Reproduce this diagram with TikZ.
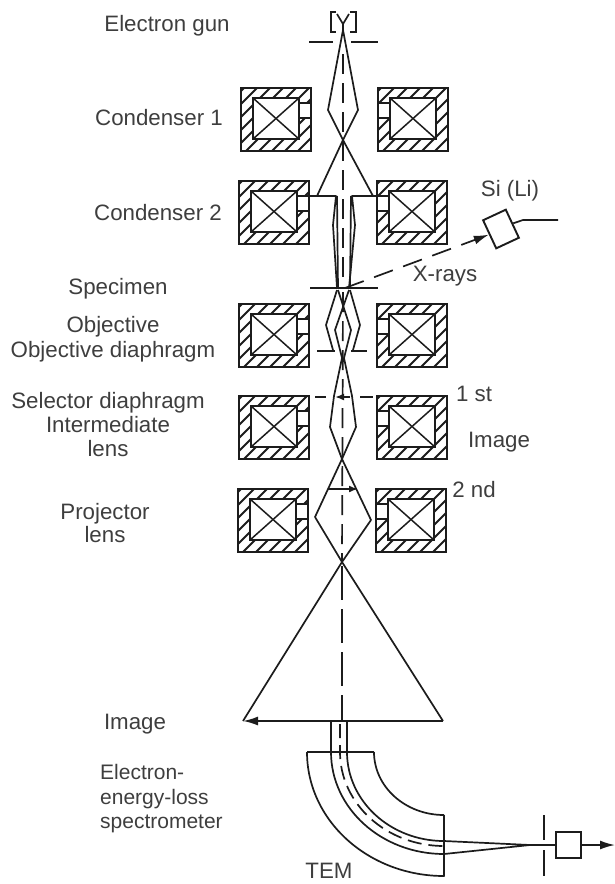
\documentclass[tikz,border=0pt]{standalone}
\usepackage{fontspec}
\setmainfont{Liberation Sans}
\usepackage{tikz}
\usetikzlibrary{arrows.meta,positioning,calc}
\definecolor{Ink}{HTML}{1C1C1C}
\tikzset{
  label/.style={font=\fontsize{22.3}{26}\selectfont,text=Ink!85,inner sep=0pt,align=center},
  ray/.style={draw=Ink,line width=1.7pt,line join=round},
  axis/.style={draw=Ink,line width=1.7pt,dash pattern=on 20pt off 9pt},
  plate/.style={draw=Ink,line width=2pt},
  arrow/.style={-{Latex[length=15pt,width=9pt]},draw=Ink,line width=1.7pt},
  smallarrow/.style={-{Latex[length=9pt,width=7pt]},draw=Ink,line width=1.7pt},
  boxed/.style={draw=Ink,line width=1.9pt,fill=white,inner sep=0pt},
  pics/coil/.style={code={
    \begin{scope}[even odd rule]
      \clip (0,0) rectangle (70,63) (12,10) rectangle (58,51) (#1,15) rectangle ++(12,15);
      \foreach \k in {-60,-47,...,70} \draw[Ink,line width=1.8pt] (\k,63) -- ++(63,-63);
    \end{scope}
    \draw[Ink,line width=2.5pt] (0,0) rectangle (70,63);
    \draw[Ink,line width=2.2pt] (12,10) rectangle (58,51);
    \draw[Ink,line width=1.5pt] (12,10) -- (58,51) (12,51) -- (58,10);
    \draw[Ink,line width=1.6pt] (#1,15) rectangle ++(12,15);
  }}
}
\begin{document}
\begin{tikzpicture}[x=1pt,y=-1pt]
  \useasboundingbox (0,0) rectangle (615,884);
  % lens coils
  \foreach \xa/\xb/\y in {241/378/88,239/377/181,239/377/304,239/377/396,238/376/489} {
    \pic at (\xa,\y) {coil=58};
    \pic at (\xb,\y) {coil=0};
  }
  % gun
  \draw[plate] (336,12) -- (331,12) -- (331,32) -- (336,32);
  \draw[plate] (350,12) -- (356,12) -- (356,32) -- (350,32);
  \draw[ray] (337,14) -- (343,24) -- (349,14) (343,24) -- (343,32);
  \draw[plate] (309,42) -- (333,42) (351,42) -- (378,42);
  % column axis
  \draw[axis] (343,54) -- (343,286);
  \draw[axis] (343,292) -- (342,562);
  \draw[axis,dash pattern=on 34pt off 9pt] (342,566) -- (342,720);
  % condenser rays
  \draw[ray] (343,30) -- (328,110) -- (343,140) -- (317,196);
  \draw[ray] (343,30) -- (358,110) -- (343,140) -- (373,196);
  \draw[ray] (300,196) -- (336,196) -- (333,225) -- (337,288);
  \draw[ray] (389,196) -- (352,196) -- (355,225) -- (349,288);
  \draw[ray] (337,196) -- (338,288) (351,196) -- (350,288);
  \draw[plate] (310,288) -- (378,288);
  % objective rays
  \draw[ray] (337,290) -- (326,325) -- (333,350);
  \draw[ray] (350,290) -- (360,325) -- (353,350);
  \draw[ray] (349,290) -- (335,330) -- (343,362);
  \draw[ray] (338,290) -- (351,330) -- (343,362);
  \draw[plate] (317,351) -- (335,351) (351,351) -- (367,351);
  % intermediate rays
  \draw[ray] (342,358) -- (334,396) -- (330,427) -- (342,459) -- (315,517) -- (342,562);
  \draw[ray] (344,358) -- (352,396) -- (356,427) -- (342,459) -- (371,520) -- (342,562);
  \draw[plate] (315,397) -- (326,397) (360,397) -- (373,397);
  \draw[smallarrow] (350,397) -- (335,397);
  \draw[smallarrow] (328,489) -- (358,489);
  % final image
  \draw[ray] (342,562) -- (243,721) (342,562) -- (443,721);
  \draw[ray] (443,721) -- (260,721);
  \draw[arrow] (262,721) -- (243,721);
  % spectrometer
  \draw[ray] (331,721) -- (331,752) (347,721) -- (347,752);
  \draw[axis,dash pattern=on 14pt off 7pt] (340,724) -- (340,752) arc[start angle=180,end angle=90,x radius=104,y radius=94];
  \draw[ray] (307,752) -- (374,752);
  \draw[ray] (307,752) arc[start angle=180,end angle=90,x radius=137,y radius=124] -- (444,815);
  \draw[ray] (374,752) arc[start angle=180,end angle=90,x radius=70,y radius=63];
  \draw[ray] (331,752) arc[start angle=180,end angle=90,x radius=113,y radius=102];
  \draw[ray] (347,752) arc[start angle=180,end angle=90,x radius=97,y radius=89];
  % energy slit and detector
  \node[boxed,minimum width=25pt,minimum height=26pt] (eels) at (568.5,845) {};
  \coordinate (focus) at (530,845);
  \coordinate (outlet) at (615,845);
  \draw[ray] (444,841) -- (focus) (444,854) -- (focus) (focus) -- (eels.west);
  \draw[plate] (544,815) -- (544,840) (544,850) -- (544,876);
  \draw[arrow] (eels.east) -- (outlet);
  % x-ray detector
  \node[boxed,rotate=25,minimum width=25pt,minimum height=31pt] (sili) at (501,229) {};
  \coordinate (spec) at (345,288);
  \coordinate (wire) at (558,220);
  \draw[arrow,dash pattern=on 20pt off 11pt] (spec) -- (sili.west);
  \draw[ray] (sili.east) -- (523,220) -- (wire);
  % labels
  \node[label] (gun) at (167,26) {Electron gun};
  \node[label] (cond1) at (159,118) {Condenser 1};
  \node[label] (cond2) at (158,213) {Condenser 2};
  \node[label] (specimen) at (118,289) {Specimen};
  \node[label] (objective) at (113,327) {Objective};
  \node[label] (objdia) at (113,352) {Objective diaphragm};
  \node[label] (seldia) at (108,403) {Selector diaphragm};
  \node[label] (interm) at (108,425) {Intermediate};
  \node[label] (intermlens) at (108,449) {lens};
  \node[label] (proj) at (105,514) {Projector};
  \node[label] (projlens) at (105,535) {lens};
  \node[label] (image) at (135,724) {Image};
  \node[label,anchor=west,font=\fontsize{21}{24}\selectfont] (eel1) at (100,772) {Electron-};
  \node[label,anchor=west,font=\fontsize{21}{24}\selectfont] (eel2) at (100,799) {energy-loss};
  \node[label,anchor=west,font=\fontsize{21}{24}\selectfont] (eel3) at (100,824) {spectrometer};
  \node[label] (tem) at (329,871) {TEM};
  \node[label] (silabel) at (510,191) {Si (Li)};
  \node[label] (xrays) at (445,276) {X-rays};
  \node[label] (first) at (474,394) {1 st};
  \node[label] (imgmid) at (499,442) {Image};
  \node[label] (second) at (474,490) {2 nd};
\end{tikzpicture}
\end{document}
